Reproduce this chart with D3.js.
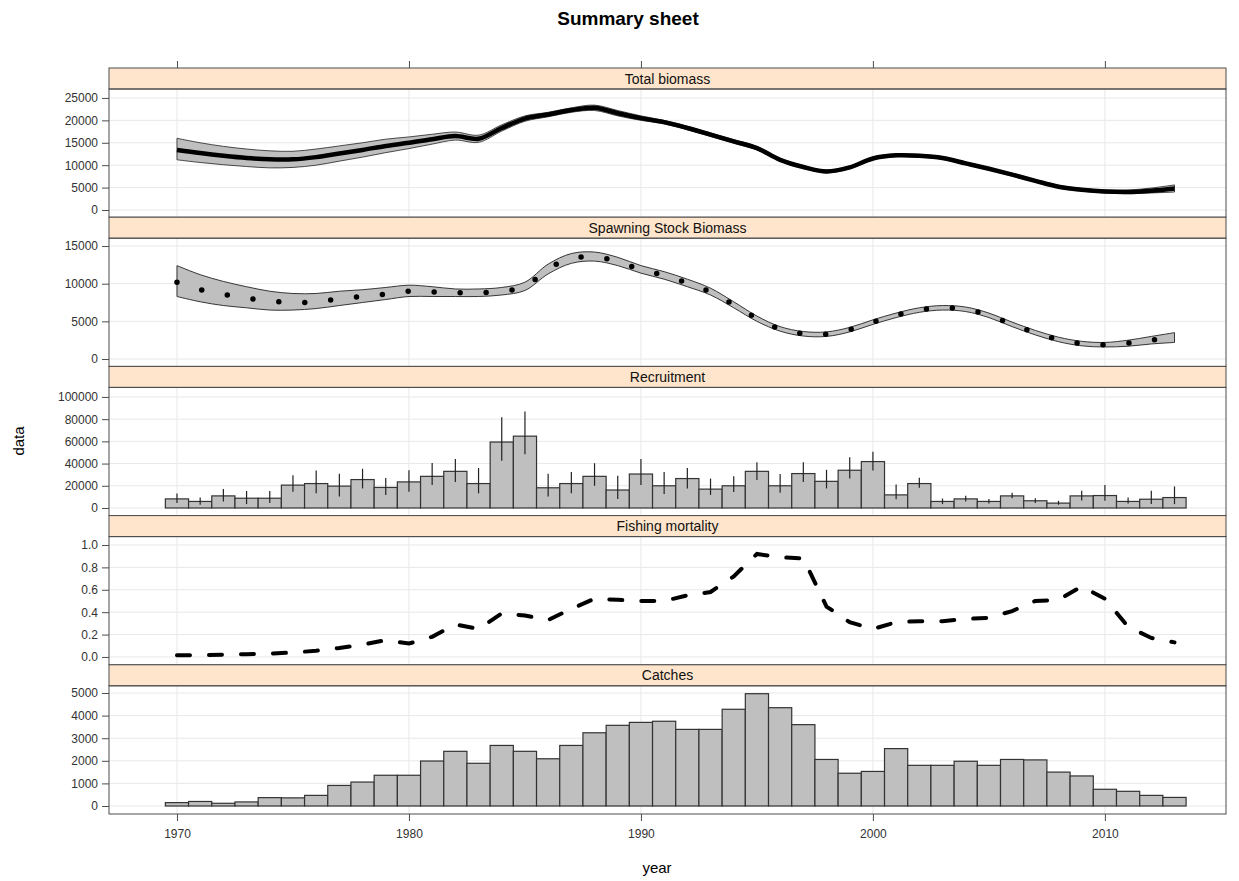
<!DOCTYPE html>
<html><head><meta charset="utf-8">
<script src="https://cdn.jsdelivr.net/npm/d3@7"></script>
<style>
body{margin:0;background:#fff}
text{font-family:"Liberation Sans",Arial,Helvetica,sans-serif}
</style></head>
<body><svg id="c" width="1239" height="881"></svg>
<script>
// ---------------- data ----------------
const years = [1970,1971,1972,1973,1974,1975,1976,1977,1978,1979,1980,1981,1982,1983,1984,1985,1986,1987,1988,1989,1990,1991,1992,1993,1994,1995,1996,1997,1998,1999,2000,2001,2002,2003,2004,2005,2006,2007,2008,2009,2010,2011,2012,2013];
const panelTitles = ["Total biomass","Spawning Stock Biomass","Recruitment","Fishing mortality","Catches"];
const xTicks = [1970,1980,1990,2000,2010];

const biomass = [13400,12700,12100,11600,11300,11300,11800,12600,13400,14300,15000,15800,16500,15900,18300,20400,21300,22300,22800,21600,20500,19600,18300,16800,15300,13800,11200,9600,8600,9500,11500,12200,12100,11600,10400,9200,7900,6500,5200,4500,4100,4000,4300,4800];
const biomassLo = [11200,10600,10100,9700,9400,9500,10000,10900,11800,12800,13700,14700,15600,15100,17600,19800,20800,21800,22200,21000,20000,19200,17900,16400,14900,13400,10900,9300,8300,9200,11200,11900,11800,11300,10100,8900,7600,6200,4900,4200,3800,3650,3800,4000];
const biomassHi = [16000,15000,14200,13600,13200,13100,13600,14300,15000,15800,16300,16900,17400,16700,19000,21000,21800,22800,23400,22200,21000,20000,18700,17200,15700,14200,11500,9900,8900,9800,11800,12500,12400,11900,10700,9500,8200,6800,5500,4800,4450,4450,4900,5600];

const ssb = [10200,9200,8600,8100,7700,7500,7600,8000,8300,8600,9000,8900,8800,8800,9000,9600,12000,13300,13600,12900,11900,11100,10100,8900,7200,5400,4000,3350,3300,3900,4900,5800,6500,6800,6600,5800,4600,3500,2600,2050,1900,2100,2500,2800];
const ssbLo = [8300,7600,7100,6800,6500,6500,6700,7100,7500,7900,8300,8300,8300,8300,8500,9100,11300,12700,13000,12400,11400,10600,9600,8500,6800,5000,3700,3050,3000,3600,4600,5500,6200,6500,6300,5500,4300,3200,2300,1750,1600,1700,2000,2200];
const ssbHi = [12400,11200,10300,9600,9000,8700,8700,9000,9200,9500,9800,9600,9300,9300,9500,10200,12600,14000,14200,13500,12400,11600,10600,9400,7600,5700,4300,3650,3600,4200,5200,6100,6800,7100,6900,6100,4900,3800,2900,2350,2200,2500,3000,3500];

const recruits = [8200,5900,10900,8800,8800,20600,22000,19700,25600,18500,23500,28500,33000,22000,59400,64700,18200,22000,28500,16200,30600,20000,26500,17000,20000,33000,20000,31000,24000,34000,41800,11800,22000,5900,8200,5900,10900,6500,4400,10900,11200,5900,7900,9400];
const recruitsLo = [4400,2900,5900,3500,4400,14700,13200,10300,17600,11800,14700,20600,23500,13200,42600,48500,10300,13200,20000,8200,20600,12600,17600,11800,14400,25300,13800,23500,17600,26500,33800,7900,18200,3500,5900,4000,8800,4500,2900,6800,6500,4100,3500,3500];
const recruitsHi = [13000,9400,17000,15300,15300,29400,33800,30900,35300,27000,34000,40600,44100,36000,81800,86800,30900,32400,40300,29100,44100,32400,36000,26500,28500,41200,30600,41200,34400,45600,50600,21200,27300,8500,11000,8000,13800,8800,6500,15600,20600,9400,15600,19400];

const fbar = [0.015,0.015,0.02,0.025,0.03,0.04,0.055,0.08,0.11,0.15,0.12,0.18,0.29,0.25,0.39,0.37,0.33,0.43,0.52,0.51,0.50,0.50,0.55,0.58,0.72,0.92,0.89,0.88,0.45,0.31,0.25,0.31,0.32,0.32,0.34,0.35,0.41,0.50,0.51,0.63,0.52,0.27,0.17,0.13];

const catches = [150,200,120,180,370,360,470,910,1060,1360,1360,1990,2420,1890,2680,2420,2090,2680,3240,3570,3700,3750,3390,3390,4280,4970,4350,3600,2060,1450,1530,2540,1800,1800,1980,1800,2060,2040,1500,1330,740,650,470,380];

const yTicks = [
  [0,5000,10000,15000,20000,25000],
  [0,5000,10000,15000],
  [0,20000,40000,60000,80000,100000],
  [0,0.2,0.4,0.6,0.8,1.0],
  [0,1000,2000,3000,4000,5000]
];
const yDomains = [[-1610,27000],[-980,16040],[-6850,108600],[-0.07,1.075],[-354,5319]];

// ---------------- layout ----------------
const svg = d3.select("#c");
const L = 109, R = 1226, TOP = 68, PH = 149.2, SH = 21;
const x = d3.scaleLinear().domain([1967.07, 2015.22]).range([L, R]);
const fillGray = "#bfbfbf", frameCol = "#4d4d4d", gridCol = "#e8e8e8", tickTextCol = "#333";
const fmt = [d3.format("d"), d3.format("d"), d3.format("d"), d3.format(".1f"), d3.format("d")];

svg.append("text").attr("x", 628).attr("y", 25).attr("text-anchor","middle")
  .attr("font-size", 19).attr("font-weight","bold").text("Summary sheet");

const panels = panelTitles.map((t,i) => {
  const top = TOP + i*PH;
  const y0 = top + SH, y1 = top + PH;
  const y = d3.scaleLinear().domain(yDomains[i]).range([y1, y0]);
  const g = svg.append("g");
  g.selectAll(".vg").data(xTicks).join("line")
    .attr("x1", d=>x(d)).attr("x2", d=>x(d)).attr("y1", y0).attr("y2", y1)
    .attr("stroke", gridCol).attr("stroke-width", 1);
  g.selectAll(".hg").data(yTicks[i]).join("line")
    .attr("x1", L).attr("x2", R).attr("y1", d=>y(d)).attr("y2", d=>y(d))
    .attr("stroke", gridCol).attr("stroke-width", 1);
  const ax = d3.axisLeft(y).tickValues(yTicks[i]).tickFormat(fmt[i]).tickSize(7).tickSizeOuter(0).tickPadding(4);
  const ag = g.append("g").attr("transform", `translate(${L},0)`).call(ax);
  ag.select(".domain").remove();
  ag.selectAll("line").attr("stroke", frameCol);
  ag.selectAll("text").attr("font-size", 12).attr("fill", tickTextCol)
    .attr("font-family", '"Liberation Sans",Arial,sans-serif');
  return {g, y, y0, y1, top};
});

// ---- Panel 1: total biomass
{
  const p = panels[0];
  const area = d3.area().x((d,i)=>x(years[i])).y0((d,i)=>p.y(biomassLo[i])).y1((d,i)=>p.y(biomassHi[i])).curve(d3.curveCatmullRom);
  p.g.append("path").datum(biomass).attr("d", area).attr("fill", fillGray).attr("stroke", "#222").attr("stroke-width", 0.8);
  const line = d3.line().x((d,i)=>x(years[i])).y(d=>p.y(d)).curve(d3.curveCatmullRom);
  p.g.append("path").datum(biomass).attr("d", line).attr("fill","none").attr("stroke","#000").attr("stroke-width", 4.5);
}
// ---- Panel 2: SSB (dotted thick line)
{
  const p = panels[1];
  const area = d3.area().x((d,i)=>x(years[i])).y0((d,i)=>p.y(ssbLo[i])).y1((d,i)=>p.y(ssbHi[i])).curve(d3.curveCatmullRom);
  p.g.append("path").datum(ssb).attr("d", area).attr("fill", fillGray).attr("stroke", "#222").attr("stroke-width", 0.9);
  const line = d3.line().x((d,i)=>x(years[i])).y(d=>p.y(d)).curve(d3.curveCatmullRom);
  p.g.append("path").datum(ssb).attr("d", line).attr("fill","none").attr("stroke","#000")
    .attr("stroke-width", 5.5).attr("stroke-linecap","round").attr("stroke-dasharray","0,26");
}
// ---- Panel 3: recruitment
{
  const p = panels[2];
  p.g.selectAll(".bar").data(recruits).join("rect")
    .attr("x", (d,i)=>x(years[i]-0.5)).attr("width", (d,i)=>x(years[i]+0.5)-x(years[i]-0.5))
    .attr("y", d=>p.y(d)).attr("height", d=>p.y(0)-p.y(d))
    .attr("fill", fillGray).attr("stroke", "#333").attr("stroke-width", 1.2);
  p.g.selectAll(".err").data(recruits).join("line")
    .attr("x1", (d,i)=>x(years[i])).attr("x2", (d,i)=>x(years[i]))
    .attr("y1", (d,i)=>p.y(recruitsLo[i])).attr("y2", (d,i)=>p.y(recruitsHi[i]))
    .attr("stroke", "#222").attr("stroke-width", 1.2);
}
// ---- Panel 4: F
{
  const p = panels[3];
  const line = d3.line().x((d,i)=>x(years[i])).y(d=>p.y(d));
  p.g.append("path").datum(fbar).attr("d", line).attr("fill","none").attr("stroke","#000")
    .attr("stroke-width", 4).attr("stroke-dasharray", "13,19").attr("stroke-linecap","round");
}
// ---- Panel 5: catches
{
  const p = panels[4];
  p.g.selectAll(".bar").data(catches).join("rect")
    .attr("x", (d,i)=>x(years[i]-0.5)).attr("width", (d,i)=>x(years[i]+0.5)-x(years[i]-0.5))
    .attr("y", d=>p.y(d)).attr("height", d=>p.y(0)-p.y(d))
    .attr("fill", fillGray).attr("stroke", "#333").attr("stroke-width", 1.2);
}

// strips and frames
panels.forEach((p,i) => {
  p.g.append("rect").attr("x", L).attr("y", p.top).attr("width", R-L).attr("height", SH)
    .attr("fill", "#ffe5cc").attr("stroke", frameCol).attr("stroke-width", 1);
  p.g.append("text").attr("x", (L+R)/2).attr("y", p.top + SH/2 + 5).attr("text-anchor","middle")
    .attr("font-size", 14).attr("fill", "#111").text(panelTitles[i]);
  p.g.append("rect").attr("x", L).attr("y", p.y0).attr("width", R-L).attr("height", p.y1-p.y0)
    .attr("fill", "none").attr("stroke", frameCol).attr("stroke-width", 1);
});

// x axes top and bottom
const bottomY = TOP + 5*PH;
const xb = svg.append("g").attr("transform", `translate(0,${bottomY})`)
  .call(d3.axisBottom(x).tickValues(xTicks).tickFormat(d3.format("d")).tickSize(7).tickSizeOuter(0).tickPadding(8));
xb.select(".domain").remove();
xb.selectAll("line").attr("stroke", frameCol);
xb.selectAll("text").attr("font-size", 12).attr("fill", tickTextCol).attr("font-family", '"Liberation Sans",Arial,sans-serif');
const xt = svg.append("g").attr("transform", `translate(0,${TOP})`)
  .call(d3.axisTop(x).tickValues(xTicks).tickFormat("").tickSize(7).tickSizeOuter(0));
xt.select(".domain").remove();
xt.selectAll("line").attr("stroke", frameCol);

svg.append("text").attr("x", 657).attr("y", 873).attr("text-anchor","middle").attr("font-size", 15).text("year");
svg.append("text").attr("transform", "translate(24,441) rotate(-90)").attr("text-anchor","middle").attr("font-size", 15).text("data");
</script></body></html>
